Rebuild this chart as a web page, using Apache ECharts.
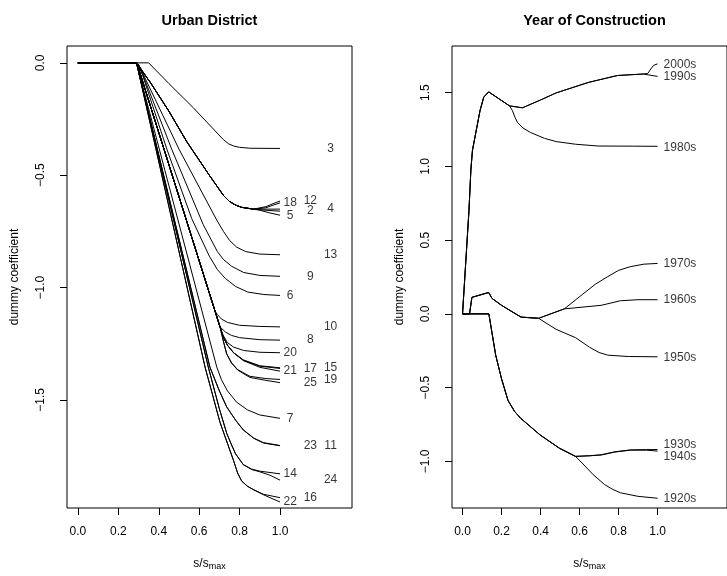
<!DOCTYPE html>
<html>
<head>
<meta charset="utf-8">
<script src="https://cdn.jsdelivr.net/npm/echarts@6/dist/echarts.min.js"></script>
<style>
  html, body { margin: 0; padding: 0; background: #fff; }
  #chart { width: 727px; height: 576px; }
</style>
</head>
<body>
<div id="chart"></div>
<script>
// axis ticks
const xTicks = [0, 0.2, 0.4, 0.6, 0.8, 1.0];
const districtYTicks = [0, -0.5, -1.0, -1.5];
const yearYTicks = [-1.0, -0.5, 0, 0.5, 1.0, 1.5];

// ---- Urban District paths (x = s/smax, y = coefficient) ----
const flatStart = [[0, 0], [0.29, 0]];
const path3 = [[0, 0], [0.35, 0], [0.45, -0.092], [0.571, -0.2], [0.72, -0.342], [0.745, -0.36], [0.77, -0.37], [0.8, -0.376], [0.85, -0.38], [1, -0.381]];
const trunkA = [[0.3, -0.01], [0.315, -0.032], [0.335, -0.058], [0.356, -0.084], [0.45, -0.215], [0.538, -0.35], [0.65, -0.5], [0.72, -0.59], [0.75, -0.617], [0.78, -0.633], [0.81, -0.643], [0.868, -0.651]];
const tail18 = [[0.93, -0.645], [0.97, -0.632], [1, -0.623]];
const tail12 = [[0.93, -0.64], [0.97, -0.625], [1, -0.615]];
const tail4 = [[0.93, -0.651], [1, -0.651]];
const tail2 = [[0.93, -0.656], [1, -0.660]];
const tail5 = [[0.9, -0.656], [0.95, -0.668], [1, -0.678]];
const path13 = [[0.3, -0.012], [0.32, -0.045], [0.5, -0.384], [0.687, -0.7], [0.72, -0.75], [0.75, -0.79], [0.785, -0.82], [0.83, -0.84], [0.9, -0.851], [1, -0.854]];
const path9 = [[0.3, -0.013], [0.32, -0.05], [0.464, -0.384], [0.62, -0.72], [0.69, -0.84], [0.72, -0.875], [0.76, -0.905], [0.82, -0.933], [0.9, -0.946], [1, -0.95]];
const path6 = [[0.3, -0.014], [0.32, -0.055], [0.44, -0.384], [0.563, -0.693], [0.65, -0.86], [0.69, -0.92], [0.73, -0.96], [0.78, -0.995], [0.84, -1.02], [0.92, -1.031], [1, -1.035]];
const trunkB = [[0.3, -0.025], [0.503, -0.604], [0.678, -1.104]];
const tail10 = [[0.69, -1.12], [0.71, -1.14], [0.74, -1.155], [0.8, -1.168], [0.9, -1.173], [1, -1.175]];
const tail8 = [[0.703, -1.175], [0.73, -1.198], [0.76, -1.213], [0.8, -1.223], [0.9, -1.232], [1, -1.234]];
const tail20 = [[0.703, -1.175], [0.72, -1.215], [0.74, -1.245], [0.77, -1.265], [0.82, -1.28], [0.9, -1.288], [1, -1.29]];
const tail15 = [[0.703, -1.175], [0.72, -1.222], [0.74, -1.257], [0.77, -1.29], [0.818, -1.322], [0.9, -1.348], [1, -1.357]];
const tail17 = [[0.703, -1.175], [0.72, -1.222], [0.74, -1.257], [0.77, -1.29], [0.818, -1.323], [0.9, -1.35], [1, -1.36]];
const tail21 = [[0.703, -1.175], [0.72, -1.222], [0.74, -1.257], [0.77, -1.29], [0.818, -1.325], [0.9, -1.355], [1, -1.372]];
const tail19 = [[0.703, -1.175], [0.72, -1.24], [0.736, -1.295], [0.76, -1.335], [0.79, -1.365], [0.851, -1.395], [0.93, -1.405], [1, -1.409]];
const tail25 = [[0.703, -1.175], [0.72, -1.24], [0.736, -1.295], [0.76, -1.336], [0.79, -1.367], [0.851, -1.4], [0.93, -1.413], [1, -1.423]];
const path7 = [[0.3, -0.034], [0.687, -1.354], [0.71, -1.41], [0.74, -1.46], [0.785, -1.51], [0.84, -1.545], [0.9, -1.567], [1, -1.582]];
const path11 = [[0.3, -0.037], [0.653, -1.354], [0.7, -1.46], [0.736, -1.531], [0.78, -1.59], [0.818, -1.633], [0.87, -1.67], [0.918, -1.69], [1, -1.703]];
const path23 = [[0.3, -0.037], [0.653, -1.354], [0.7, -1.46], [0.736, -1.531], [0.78, -1.59], [0.818, -1.634], [0.87, -1.671], [0.918, -1.692], [1, -1.704]];
const path14 = [[0.3, -0.038], [0.645, -1.354], [0.7, -1.54], [0.736, -1.648], [0.76, -1.7], [0.78, -1.74], [0.818, -1.788], [0.86, -1.808], [0.9, -1.817], [1, -1.829]];
const path24 = [[0.3, -0.038], [0.645, -1.354], [0.7, -1.54], [0.736, -1.648], [0.76, -1.7], [0.78, -1.74], [0.818, -1.788], [0.86, -1.81], [0.9, -1.82], [0.95, -1.835], [1, -1.857]];
const path16 = [[0.3, -0.04], [0.629, -1.354], [0.703, -1.6], [0.77, -1.77], [0.79, -1.825], [0.81, -1.861], [0.84, -1.885], [0.87, -1.9], [0.918, -1.92], [1, -1.935]];
const path22 = [[0.3, -0.04], [0.629, -1.354], [0.703, -1.6], [0.77, -1.77], [0.79, -1.825], [0.81, -1.861], [0.84, -1.885], [0.87, -1.9], [0.918, -1.922], [0.95, -1.935], [1, -1.954]];

const districtNames = ['3', '12', '18', '4', '2', '5', '13', '9', '6', '10', '8', '20',
  '15', '17', '21', '19', '25', '7', '11', '23', '14', '24', '16', '22'];
const districtPaths = [
  path3,
  [...flatStart, ...trunkA, ...tail12],
  [...flatStart, ...trunkA, ...tail18],
  [...flatStart, ...trunkA, ...tail4],
  [...flatStart, ...trunkA, ...tail2],
  [...flatStart, ...trunkA, ...tail5],
  [...flatStart, ...path13],
  [...flatStart, ...path9],
  [...flatStart, ...path6],
  [...flatStart, ...trunkB, ...tail10],
  [...flatStart, ...trunkB, ...tail8],
  [...flatStart, ...trunkB, ...tail20],
  [...flatStart, ...trunkB, ...tail15],
  [...flatStart, ...trunkB, ...tail17],
  [...flatStart, ...trunkB, ...tail21],
  [...flatStart, ...trunkB, ...tail19],
  [...flatStart, ...trunkB, ...tail25],
  [...flatStart, ...path7],
  [...flatStart, ...path11],
  [...flatStart, ...path23],
  [...flatStart, ...path14],
  [...flatStart, ...path24],
  [...flatStart, ...path16],
  [...flatStart, ...path22]
];
// label columns cycle 1.25, 1.15, 1.05 in order of end value
const labelCols = [1.25, 1.15, 1.05];

// ---- Year of Construction paths ----
const trunkUp = [[0, 0], [0.033, 0.7], [0.043, 0.98], [0.051, 1.11], [0.09, 1.38], [0.109, 1.47], [0.134, 1.505], [0.241, 1.41]];
const tail1980 = [[0.255, 1.38], [0.27, 1.33], [0.282, 1.297], [0.31, 1.26], [0.348, 1.23], [0.42, 1.19], [0.48, 1.168], [0.58, 1.15], [0.695, 1.138], [0.876, 1.137], [1, 1.136]];
const trunk1990 = [[0.307, 1.397], [0.4, 1.45], [0.48, 1.498], [0.645, 1.569], [0.794, 1.616], [0.926, 1.626]];
const tail1990 = [[1, 1.61]];
const tail2000 = [[0.95, 1.63], [0.965, 1.66], [0.98, 1.685], [1, 1.695]];
const trunkMid = [[0, 0], [0.036, 0], [0.048, 0.112], [0.134, 0.145], [0.151, 0.105], [0.2, 0.058], [0.3, -0.022], [0.39, -0.03]];
const tail1950 = [[0.48, -0.105], [0.579, -0.161], [0.65, -0.225], [0.7, -0.262], [0.745, -0.28], [0.85, -0.289], [1, -0.291]];
const trunk1960 = [[0.522, 0.034]];
const tail1970 = [[0.613, 0.13], [0.68, 0.2], [0.745, 0.253], [0.8, 0.295], [0.86, 0.32], [0.93, 0.337], [1, 0.342]];
const tail1960 = [[0.711, 0.058], [0.81, 0.089], [0.9, 0.096], [1, 0.096]];
const trunkLow = [[0, 0], [0.135, 0], [0.15, -0.12], [0.17, -0.28], [0.2, -0.44], [0.233, -0.586], [0.266, -0.66], [0.299, -0.709], [0.398, -0.821], [0.497, -0.911], [0.579, -0.966]];
const tail1930 = [[0.65, -0.962], [0.711, -0.955], [0.78, -0.935], [0.861, -0.922], [0.944, -0.92], [1, -0.92]];
const tail1940 = [[0.65, -0.962], [0.711, -0.957], [0.78, -0.937], [0.861, -0.924], [0.944, -0.924], [1, -0.93]];
const tail1920 = [[0.613, -1.011], [0.67, -1.09], [0.728, -1.157], [0.77, -1.19], [0.81, -1.213], [0.9, -1.237], [1, -1.25]];

const yearNames = ['2000s', '1990s', '1980s', '1970s', '1960s', '1950s', '1930s', '1940s', '1920s'];
const yearPaths = [
  [...trunkUp, ...trunk1990, ...tail2000],
  [...trunkUp, ...trunk1990, ...tail1990],
  [...trunkUp, ...tail1980],
  [...trunkMid, ...trunk1960, ...tail1970],
  [...trunkMid, ...trunk1960, ...tail1960],
  [...trunkMid, ...tail1950],
  [...trunkLow, ...tail1930],
  [...trunkLow, ...tail1940],
  [...trunkLow, ...tail1920]
];
const yearLabelY = [1.69, 1.611, 1.13, 0.34, 0.096, -0.295, -0.884, -0.966, -1.253];

const FONT = '"Liberation Sans", Arial, Helvetica, sans-serif';
const fmt = v => (v < 0 ? '\u2212' : '') + Math.abs(v).toFixed(1);

const lineStyle = { color: '#000', width: 1 };
const series = [];

districtPaths.forEach((p) => {
  series.push({
    type: 'line', xAxisIndex: 0, yAxisIndex: 0, data: p,
    showSymbol: false, smooth: false,
    lineStyle: lineStyle, silent: true
  });
});
series.push({
  type: 'scatter', xAxisIndex: 0, yAxisIndex: 0, symbolSize: 0.1,
  itemStyle: { color: 'rgba(0,0,0,0)' },
  data: districtNames.map((n, i) => ({
    name: n,
    value: [labelCols[i % 3], districtPaths[i][districtPaths[i].length - 1][1]]
  })),
  label: {
    show: true, position: 'inside', formatter: '{b}',
    color: '#000', fontSize: 12, fontFamily: FONT
  }
});

yearPaths.forEach((p) => {
  series.push({
    type: 'line', xAxisIndex: 1, yAxisIndex: 1, data: p,
    showSymbol: false, smooth: false,
    lineStyle: lineStyle, silent: true
  });
});
series.push({
  type: 'scatter', xAxisIndex: 1, yAxisIndex: 1, symbolSize: 0.1,
  itemStyle: { color: 'rgba(0,0,0,0)' },
  data: yearNames.map((n, i) => ({ name: n, value: [1, yearLabelY[i]] })),
  label: {
    show: true, position: 'right', distance: 6, formatter: '{b}',
    color: '#000', fontSize: 12, fontFamily: FONT
  }
});

const xAxisBase = (gi) => ({
  type: 'value', gridIndex: gi, min: -0.054, max: 1.356,
  name: 's/s{sub|max}', nameLocation: 'middle', nameGap: 48,
  nameTextStyle: {
    color: '#000', fontSize: 12, fontFamily: FONT,
    rich: { sub: { fontSize: 9, fontFamily: FONT, color: '#000', padding: [6, 0, 0, 0] } }
  },
  axisLine: { show: false, onZero: false },
  splitLine: { show: false },
  axisTick: { show: true, inside: false, length: 7, customValues: xTicks, lineStyle: { color: '#000' } },
  axisLabel: { customValues: xTicks, formatter: fmt, margin: 18, color: '#000', fontSize: 12, fontFamily: FONT }
});
const yAxisBase = (gi, min, max, ticks) => ({
  type: 'value', gridIndex: gi, min: min, max: max,
  name: 'dummy coefficient', nameLocation: 'middle', nameGap: 46, nameRotate: 90,
  nameTextStyle: { color: '#000', fontSize: 12, fontFamily: FONT },
  axisLine: { show: false, onZero: false },
  splitLine: { show: false },
  axisTick: { show: true, inside: false, length: 7, customValues: ticks, lineStyle: { color: '#000' } },
  axisLabel: { customValues: ticks, formatter: fmt, rotate: 90, margin: 20, color: '#000', fontSize: 12, fontFamily: FONT }
});

const chart = echarts.init(document.getElementById('chart'));
chart.setOption({
  animation: false,
  backgroundColor: '#fff',
  title: [
    { text: 'Urban District', left: 209.5, top: 13, textAlign: 'center', padding: 0,
      textStyle: { fontSize: 14.5, fontWeight: 'bold', color: '#000', fontFamily: FONT } },
    { text: 'Year of Construction', left: 594.5, top: 13, textAlign: 'center', padding: 0,
      textStyle: { fontSize: 14.5, fontWeight: 'bold', color: '#000', fontFamily: FONT } }
  ],
  grid: [
    { left: 67, top: 46, width: 285, height: 466, show: true, borderColor: '#000', borderWidth: 1, backgroundColor: 'transparent' },
    { left: 452, top: 46, width: 285, height: 466, show: true, borderColor: '#000', borderWidth: 1, backgroundColor: 'transparent' }
  ],
  xAxis: [xAxisBase(0), xAxisBase(1)],
  yAxis: [
    yAxisBase(0, -1.981, 0.075, districtYTicks),
    yAxisBase(1, -1.316, 1.816, yearYTicks)
  ],
  series: series
});
</script>
</body>
</html>
